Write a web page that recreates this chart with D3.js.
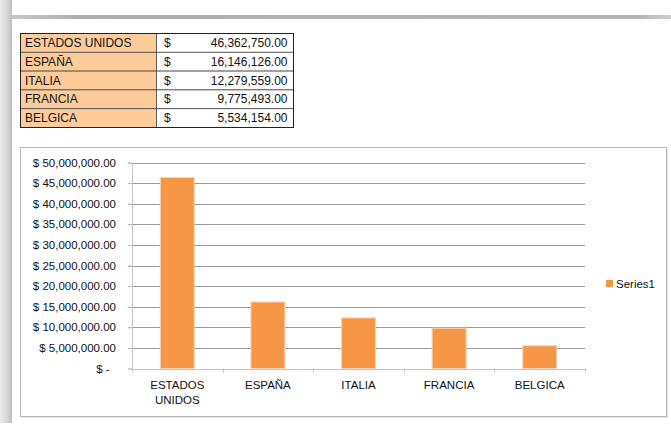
<!DOCTYPE html>
<html>
<head>
<meta charset="utf-8">
<script src="https://cdn.jsdelivr.net/npm/d3@7"></script>
<style>
  body { margin: 0; background: #fff; }
  svg { display: block; font-family: "Liberation Sans", Arial, sans-serif; }
</style>
</head>
<body>
<div id="chart"></div>
<script>
var countries = ['ESTADOS UNIDOS', 'ESPAÑA', 'ITALIA', 'FRANCIA', 'BELGICA']
var values = [46362750, 16146126, 12279559, 9775493, 5534154]
var yTicks = [0, 5000000, 10000000, 15000000, 20000000, 25000000, 30000000, 35000000, 40000000, 45000000, 50000000]
var seriesName = 'Series1'

var data = countries.map(function(d, i){ return {name: d, value: values[i]} })

var width = 671, height = 424
var svg = d3.select('#chart').append('svg').attr('width', width).attr('height', height)

// window chrome: left strip + top bar
var defs = svg.append('defs')
var g1 = defs.append('linearGradient').attr('id', 'strip').attr('x1', 0).attr('x2', 1).attr('y1', 0).attr('y2', 0)
g1.append('stop').attr('offset', 0).attr('stop-color', '#ececec')
g1.append('stop').attr('offset', 0.6).attr('stop-color', '#d6d6d6')
g1.append('stop').attr('offset', 1).attr('stop-color', '#bdbdbd')
var g2 = defs.append('linearGradient').attr('id', 'bar').attr('x1', 0).attr('x2', 1).attr('y1', 0).attr('y2', 0)
g2.append('stop').attr('offset', 0).attr('stop-color', '#c8c8c8')
g2.append('stop').attr('offset', 0.1).attr('stop-color', '#b0b0b0')
g2.append('stop').attr('offset', 0.95).attr('stop-color', '#b4b4b4')
g2.append('stop').attr('offset', 1).attr('stop-color', '#d0d0d0')

svg.append('rect').attr('x', 0).attr('y', 0).attr('width', 12).attr('height', 423).attr('fill', 'url(#strip)')
svg.append('rect').attr('x', 12).attr('y', 15).attr('width', 659).attr('height', 4).attr('fill', 'url(#bar)')

// table
var tab = svg.append('g')
var rowH = 18.8, tx0 = 20.5, tx1 = 156.5, tx2 = 293.5, ty0 = 33.5
var rows = tab.selectAll('g.row').data(data).enter().append('g')
  .attr('transform', function(d, i){ return 'translate(0,' + (ty0 + i * rowH) + ')' })
rows.append('rect').attr('x', tx0).attr('width', tx1 - tx0).attr('height', rowH)
  .attr('fill', '#fdcc9a').attr('stroke', '#4a4a4a').attr('stroke-width', 0.8)
rows.append('rect').attr('x', tx1).attr('width', tx2 - tx1).attr('height', rowH)
  .attr('fill', '#fff').attr('stroke', '#4a4a4a').attr('stroke-width', 0.8)
rows.append('text').attr('x', 25).attr('y', 13.5).attr('font-size', 12).attr('fill', '#111')
  .text(function(d){ return d.name })
rows.append('text').attr('x', 164).attr('y', 13.5).attr('font-size', 12).attr('fill', '#111').text('$')
rows.append('text').attr('x', 287.5).attr('y', 13.5).attr('font-size', 12).attr('fill', '#111')
  .attr('text-anchor', 'end').text(function(d){ return d3.format(',.2f')(d.value) })
tab.append('rect').attr('x', tx0).attr('y', ty0).attr('width', tx2 - tx0).attr('height', rowH * data.length)
  .attr('fill', 'none').attr('stroke', '#222').attr('stroke-width', 1)

// chart box
svg.append('rect').attr('x', 22).attr('y', 149).attr('width', 646).attr('height', 269).attr('fill', '#e4e4e4')
svg.append('rect').attr('x', 20.5).attr('y', 147.5).attr('width', 646).attr('height', 269)
  .attr('fill', '#fff').attr('stroke', '#b9b9b9').attr('stroke-width', 1)

var margin = {left: 132, top: 162.5, right: 86, bottom: 56}
var x = d3.scaleBand().domain(countries).range([margin.left, width - margin.right]).padding(0)
var y = d3.scaleLinear().domain([0, 50000000]).range([368.5, margin.top])

var fmt = function(d){ return d === 0 ? '$ -  ' : '$ ' + d3.format(',.2f')(d) }

// gridlines
svg.append('g').selectAll('line').data(yTicks.filter(function(d){ return d > 0 })).enter().append('line')
  .attr('x1', 128).attr('x2', x.range()[1])
  .attr('y1', function(d){ return Math.round(y(d)) + 0.5 }).attr('y2', function(d){ return Math.round(y(d)) + 0.5 })
  .attr('stroke', '#9a9a9a').attr('stroke-width', 1)

// y axis
var yAxis = svg.append('g').attr('transform', 'translate(' + margin.left + ',0)')
  .call(d3.axisLeft(y).tickValues(yTicks).tickFormat(fmt).tickSize(4).tickPadding(12))
yAxis.select('.domain').attr('stroke', '#c4c4c4')
yAxis.selectAll('.tick line').attr('stroke', '#c4c4c4')
yAxis.selectAll('text').attr('font-size', 11.5).attr('fill', '#111').attr('font-family', 'Liberation Sans, Arial, sans-serif')
  .style('white-space', 'pre')

// bars
var bw = x.bandwidth() * 0.375
svg.append('g').selectAll('rect').data(data).enter().append('rect')
  .attr('x', function(d){ return x(d.name) + (x.bandwidth() - bw) / 2 })
  .attr('y', function(d){ return y(d.value) })
  .attr('width', bw)
  .attr('height', function(d){ return y(0) - y(d.value) })
  .attr('fill', '#f79646').attr('stroke', '#fbd3b6').attr('stroke-width', 1)

// x axis
var xAxisG = svg.append('g')
xAxisG.append('line').attr('x1', margin.left).attr('x2', x.range()[1])
  .attr('y1', Math.round(y(0)) + 0.5).attr('y2', Math.round(y(0)) + 0.5).attr('stroke', '#c4c4c4')
var bounds = countries.map(function(d){ return x(d) }).concat([x.range()[1]])
xAxisG.selectAll('line.tk').data(bounds).enter().append('line')
  .attr('x1', function(d){ return Math.round(d) + 0.5 }).attr('x2', function(d){ return Math.round(d) + 0.5 })
  .attr('y1', y(0)).attr('y2', y(0) + 4).attr('stroke', '#c4c4c4')
var labels = xAxisG.selectAll('text').data(countries).enter().append('text')
  .attr('x', function(d){ return x(d) + x.bandwidth() / 2 })
  .attr('y', 389).attr('text-anchor', 'middle').attr('font-size', 11.5).attr('fill', '#111')
labels.each(function(d){
  var parts = d.split(' ')
  var t = d3.select(this)
  parts.forEach(function(p, i){
    t.append('tspan').attr('x', t.attr('x')).attr('dy', i === 0 ? 0 : 15).text(p)
  })
})

// legend
svg.append('rect').attr('x', 606).attr('y', 280).attr('width', 7).attr('height', 7).attr('fill', '#f79646')
svg.append('text').attr('x', 616).attr('y', 287.5).attr('font-size', 11.5).attr('fill', '#111').text(seriesName)
</script>
</body>
</html>
